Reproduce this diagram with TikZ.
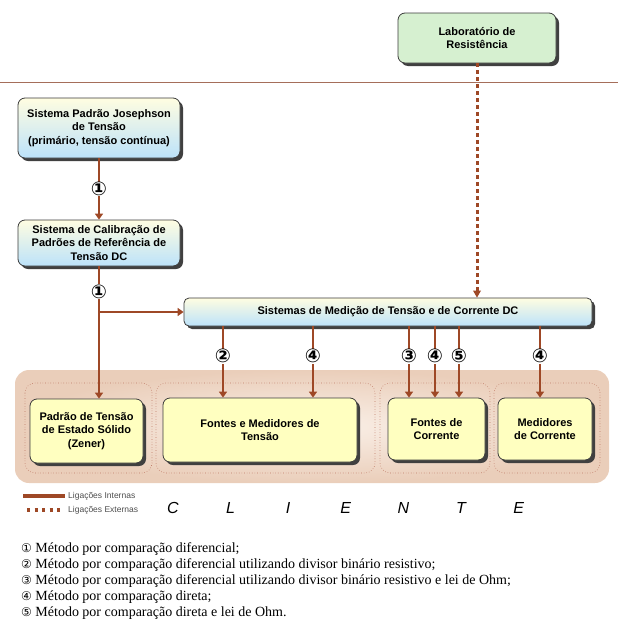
\documentclass[tikz,border=0pt]{standalone}
\usepackage{fontspec}
\setmainfont{Liberation Serif}
\newfontfamily\boxfont{Liberation Sans}
\newfontfamily\circfont{DejaVu Sans}
\usetikzlibrary{arrows.meta,shadows}

\definecolor{linkbrown}{RGB}{158,72,38}
\definecolor{rulebrown}{RGB}{165,110,90}
\definecolor{boxline}{RGB}{60,60,60}
\definecolor{boxyellow}{RGB}{255,253,225}
\definecolor{boxblue}{RGB}{188,226,250}
\definecolor{labgreen}{RGB}{214,240,208}
\definecolor{clientyellow}{RGB}{255,255,192}
\definecolor{bgpeach}{RGB}{234,206,186}
\definecolor{bglight}{RGB}{250,240,232}
\definecolor{groupline}{RGB}{190,120,100}

\begin{document}
\begin{tikzpicture}[x=1pt,y=-1pt,
  main box/.style={rectangle,rounded corners=7pt,draw=boxline,line width=0.8pt,align=center,
    font=\boxfont\bfseries\fontsize{11}{13.5}\selectfont,
    drop shadow={shadow xshift=3pt,shadow yshift=-3pt,fill=black!75,opacity=1}},
  top box/.style={main box,top color=boxyellow,bottom color=boxblue},
  lab box/.style={main box,fill=labgreen},
  client box/.style={main box,fill=clientyellow},
  group box/.style={draw=groupline,line width=0.6pt,dotted,rounded corners=10pt},
  num label/.style={fill=white,inner sep=0.3pt,font=\circfont\bfseries\fontsize{19}{19}\selectfont},
  int link/.style={draw=linkbrown,line width=2.6pt,-{Triangle[width=8pt,length=6pt]}},
  ext link/.style={draw=linkbrown,line width=3pt,dash pattern=on 3.5pt off 3.5pt},
  client letter/.style={font=\boxfont\itshape\fontsize{16}{16}\selectfont},
  legend text/.style={font=\boxfont\fontsize{8.5}{9}\selectfont,text=black!70,anchor=west,inner sep=1pt}]

  \useasboundingbox (0,0) rectangle (618,624);

  % client area
  \shade[rounded corners=14pt,inner color=bglight,outer color=bgpeach] (15,370) rectangle (609,483);
  \draw[group box] (25,383) rectangle (152,473);
  \draw[group box] (156,383) rectangle (375,473);
  \draw[group box] (380,383) rectangle (490,473);
  \draw[group box] (494,383) rectangle (600,473);

  % boundary of the lab
  \draw[rulebrown,line width=0.8pt] (0,82) -- (618,82);

  \node[lab box,minimum width=158pt,minimum height=50pt] (lab) at (477,38) {Laboratório de\\Resistência};
  \node[top box,minimum width=162pt,minimum height=60pt] (josephson) at (99,128)
    {Sistema Padrão Josephson\\de Tensão\\(primário, tensão contínua)};
  \node[top box,minimum width=162pt,minimum height=46pt] (calib) at (99,243)
    {Sistema de Calibração de\\Padrões de Referência de\\Tensão DC};
  \node[top box,rounded corners=5pt,minimum width=408pt,minimum height=28pt] (medicao) at (388,312)
    {Sistemas de Medição de Tensão e de Corrente DC};

  \node[client box,minimum width=113pt,minimum height=64pt] (zener) at (86.5,431)
    {Padrão de Tensão\\de Estado Sólido\\(Zener)};
  \node[client box,minimum width=194pt,minimum height=64pt] (fontesMed) at (260,430)
    {Fontes e Medidores de\\Tensão};
  \node[client box,minimum width=97pt,minimum height=62pt] (fontesCor) at (436.5,429)
    {Fontes de\\Corrente};
  \node[client box,minimum width=94pt,minimum height=62pt] (medCor) at (545,429)
    {Medidores\\de Corrente};

  % internal links
  \draw[int link] (josephson.south) -- node[num label] {①} (calib.north);
  \draw[int link] (calib.south) -- node[num label,pos=0.19] {①} (calib.south |- zener.north);
  \draw[int link] (calib.south |- medicao.west) -- (medicao.west);
  \foreach \xx/\tgt/\dig in {223/fontesMed/②,313/fontesMed/④,409/fontesCor/③,
                             435/fontesCor/④,459/fontesCor/⑤,540/medCor/④}
    \draw[int link] (\xx,0 |- medicao.south) -- node[num label,pos=0.42] {\dig} (\xx,0 |- \tgt.north);

  % external link
  \draw[ext link] (lab.south) -- ([yshift=5pt]lab.south |- medicao.north);
  \draw[draw=none,fill=linkbrown] (lab.south |- medicao.north) -- ++(-4,-7) -- ++(8,0) -- cycle;

  % legend
  \draw[linkbrown,line width=3.5pt] (23,496) -- (65,496);
  \draw[linkbrown,line width=3.2pt,dash pattern=on 3.2pt off 4.3pt] (27,510) -- (64,510);
  \node[legend text] (intLeg) at (67,496) {Ligações Internas};
  \node[legend text] (extLeg) at (67,510) {Ligações Externas};

  \foreach \ch [count=\i from 0] in {C,L,I,E,N,T,E}
    \node[client letter] (letter\i) at (173+57.6*\i,508) {\ch};

  \node[anchor=north west,align=left,inner sep=0pt,font=\fontsize{14}{16}\selectfont] (methods) at (21,542)
    {{\circfont\fontsize{12}{12}\selectfont ①} Método por comparação diferencial;\\
     {\circfont\fontsize{12}{12}\selectfont ②} Método por comparação diferencial utilizando divisor binário resistivo;\\
     {\circfont\fontsize{12}{12}\selectfont ③} Método por comparação diferencial utilizando divisor binário resistivo e lei de Ohm;\\
     {\circfont\fontsize{12}{12}\selectfont ④} Método por comparação direta;\\
     {\circfont\fontsize{12}{12}\selectfont ⑤} Método por comparação direta e lei de Ohm.};
\end{tikzpicture}
\end{document}
